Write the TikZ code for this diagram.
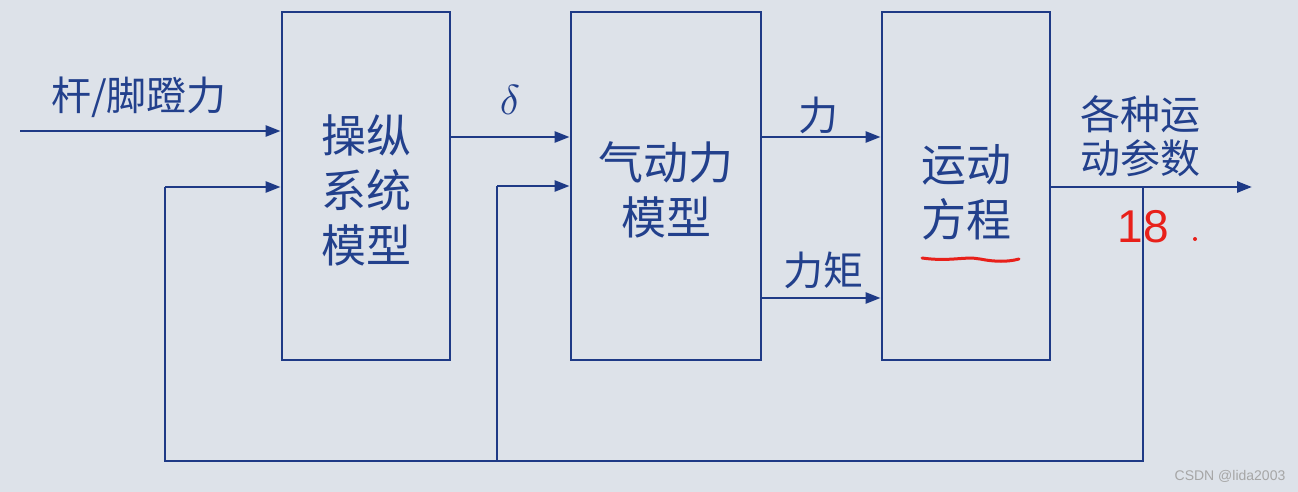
\documentclass[tikz,border=0pt]{standalone}
\usepackage{fontspec}
\newfontfamily\cjk{Noto Sans CJK SC}
\newfontfamily\arialx{Liberation Sans}
\usetikzlibrary{arrows.meta}
\definecolor{bg}{HTML}{DDE2E9}
\definecolor{ln}{HTML}{1E3A86}
\definecolor{tx}{HTML}{22408C}
\definecolor{rd}{HTML}{E8201A}
\tikzset{
  blk/.style={draw=ln, line width=2.8pt, inner sep=0pt},
  conn/.style={draw=ln, line width=2.6pt, -{Triangle[length=15pt,width=11pt]}},
  wire/.style={draw=ln, line width=2.6pt},
  lbl/.style={text=tx, font=\cjk\fontsize{40}{44}\selectfont, inner sep=0pt, align=center},
  btxt/.style={text=tx, font=\cjk\fontsize{45}{55}\selectfont, inner sep=0pt, align=center}
}
\begin{document}
\begin{tikzpicture}[x=1pt,y=-1pt]
\fill[bg] (0,0) rectangle (1298,492);
\useasboundingbox (0,0) rectangle (1298,492);
% blocks
\node[blk, minimum width=168pt, minimum height=348pt] (b1) at (366,186) {};
\node[blk, minimum width=190pt, minimum height=348pt] (b2) at (666,186) {};
\node[blk, minimum width=168pt, minimum height=348pt] (b3) at (966,186) {};
\node[btxt] (t1) at (366,190) {操纵\\系统\\模型};
\node[btxt] (t2) at (666,190) {气动力\\模型};
\node[btxt] (t3) at (966,192) {运动\\方程};
% coordinates
\coordinate (in) at (20,131);
\coordinate (out) at (1252,187);
\coordinate (br) at (1143,187);
\coordinate (c1) at (1143,461);
\coordinate (c2) at (165,461);
\coordinate (c3) at (165,187);
\coordinate (c4) at (497,461);
\coordinate (c5) at (497,186);
% connectors
\draw[conn] (in) -- (in -| b1.west);
\draw[conn] (b1.east |- 0,137) -- (b2.west |- 0,137);
\draw[conn] (b2.east |- 0,137) -- (b3.west |- 0,137);
\draw[conn] (b2.east |- 0,298) -- (b3.west |- 0,298);
\draw[conn] (b3.east |- out) -- (out);
\draw[wire] (br) -- (c1) -- (c2) -- (c3);
\draw[conn] (c3) -- (c3 -| b1.west);
\draw[wire] (c4) -- (c5);
\draw[conn] (c5) -- (c5 -| b2.west);
% labels
\node[lbl] (l1) at (139,97) {杆/脚蹬力};
\node[text=tx, inner sep=0pt] (ld) at (510,100) {\scalebox{4.2}{$\delta$}};
\node[lbl] (l2) at (818,115) {力};
\node[lbl] (l3) at (823,270) {力矩};
\node[lbl] (l4) at (1140,136) {各种运\\动参数};
% handwritten annotations
\node[text=rd, inner sep=0pt, font=\arialx\fontsize{46}{46}\selectfont] (n18) at (1143,227) {18};
\fill[rd] (1195,239) circle (2pt);
\draw[rd, line width=3pt, line cap=round] (922,258) .. controls (950,262) and (965,256) .. (980,259) .. controls (995,262) and (1008,262) .. (1019,259);
% watermark
\node[text=gray!70, inner sep=0pt, font=\arialx\fontsize{14}{16}\selectfont] (wm) at (1230,476) {CSDN @lida2003};
\end{tikzpicture}
\end{document}
